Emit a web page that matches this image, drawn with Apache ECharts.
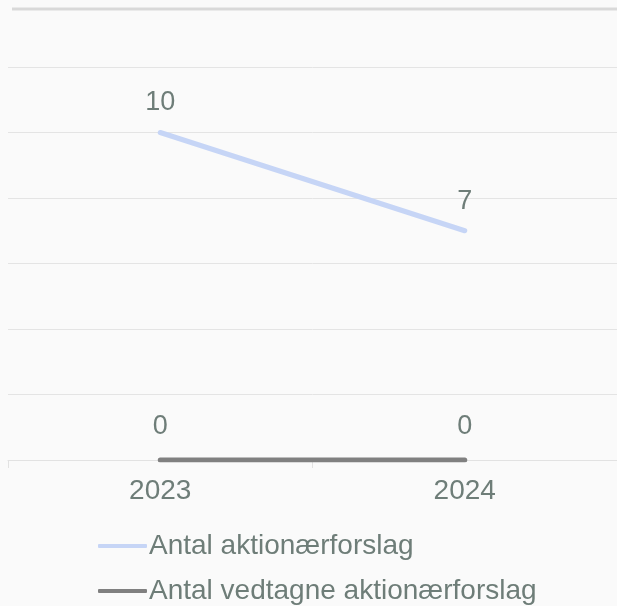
<!DOCTYPE html>
<html>
<head>
<meta charset="utf-8">
<script src="https://cdn.jsdelivr.net/npm/echarts@6/dist/echarts.min.js"></script>
<style>
  html, body { margin: 0; padding: 0; background: #fafafa; }
  #chart { width: 617px; height: 606px; }
</style>
</head>
<body>
<div id="chart"></div>
<script>
// Shareholder proposals per year
const years = ['2023', '2024'];
const proposals = [10, 7];
const adopted = [0, 0];
const seriesNames = ['Antal aktionærforslag', 'Antal vedtagne aktionærforslag'];

const textColor = '#6e7d78';
const font = 'Liberation Sans, Arial, sans-serif';

const chart = echarts.init(document.getElementById('chart'), null, { renderer: 'canvas' });

const labelStyle = {
  show: true,
  position: 'top',
  distance: 16,
  color: textColor,
  fontSize: 27,
  fontFamily: font
};

// one legend block per row, stacked under the axis
function legendRow(name, top) {
  return {
    orient: 'vertical',
    left: 93,
    top: top,
    itemWidth: 49,
    itemHeight: 4,
    icon: 'roundRect',
    textStyle: { color: textColor, fontSize: 28, fontFamily: font, padding: [0, 0, 0, -3] },
    data: [name]
  };
}

chart.setOption({
  backgroundColor: '#fafafa',
  animation: false,
  graphic: [{
    type: 'line',
    shape: { x1: 12, y1: 9, x2: 617, y2: 9 },
    style: { stroke: '#d9d9d9', lineWidth: 3 }
  }],
  grid: { left: 8, width: 614, top: 67, bottom: 146, containLabel: false },
  xAxis: {
    type: 'category',
    data: years,
    boundaryGap: true,
    axisLine: { lineStyle: { color: '#e2e2e2', width: 1 } },
    axisTick: { show: true, length: 8, lineStyle: { color: '#e2e2e2' } },
    axisLabel: { color: textColor, fontSize: 28, fontFamily: font, margin: 17 }
  },
  yAxis: {
    type: 'value',
    min: 0,
    max: 12,
    interval: 2,
    axisLine: { show: false },
    axisTick: { show: false },
    axisLabel: { show: false },
    splitLine: { lineStyle: { color: '#e4e4e4', width: 1 } }
  },
  legend: [legendRow(seriesNames[0], 527), legendRow(seriesNames[1], 572)],
  series: [
    {
      name: seriesNames[0],
      type: 'line',
      data: proposals,
      symbol: 'circle',
      symbolSize: 0,
      showSymbol: true,
      itemStyle: { color: '#c6d5f6' },
      lineStyle: { color: '#c6d5f6', width: 5, cap: 'round' },
      label: labelStyle,
      z: 3
    },
    {
      name: seriesNames[1],
      type: 'line',
      data: adopted,
      symbol: 'circle',
      symbolSize: 0,
      showSymbol: true,
      itemStyle: { color: '#808080' },
      lineStyle: { color: '#808080', width: 5, cap: 'round' },
      label: Object.assign({}, labelStyle, { distance: 20 }),
      z: 4
    }
  ]
});
</script>
</body>
</html>
